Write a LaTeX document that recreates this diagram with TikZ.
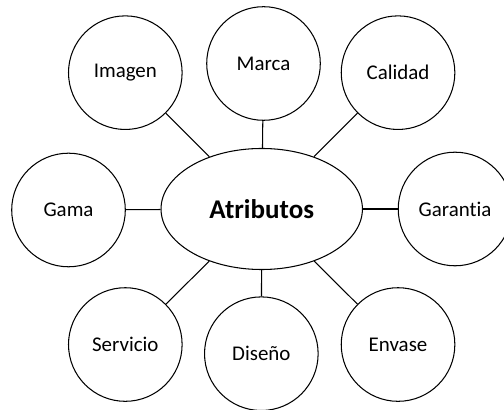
\documentclass[tikz,border=0pt]{standalone}
\usepackage{fontspec}
\setmainfont{Carlito}[Ligatures={NoCommon}]
\usetikzlibrary{shapes.geometric}
\tikzset{
  map style/.style={
    line width=0.6pt,
  },
  attribute node/.style={
    draw,circle,inner sep=0pt,minimum size=2.29cm,
    font=\fontsize{12}{14}\selectfont
  },
  centre node/.style={
    draw,ellipse,inner sep=0pt,minimum width=4.06cm,minimum height=2.44cm,
    font=\fontsize{15.5}{18}\selectfont\bfseries
  },
  link/.style={
    draw,
  },
}

\begin{document}
\begin{tikzpicture}[map style]
  \useasboundingbox (0,0) rectangle (10.16,8.245);
  \node[centre node] (attr) at (5.276,4.032) {Atributos};
  \node[attribute node] (imagen) at (2.526,6.780) {Imagen}
    edge[link] (attr);
  \node[attribute node] (marca) at (5.312,6.965) {Marca}
    edge[link] (attr);
  \node[attribute node] (calidad) at (8.024,6.780) {Calidad}
    edge[link] (attr);
  \node[attribute node] (gama) at (1.381,4.012) {Gama}
    edge[link] (attr);
  \node[attribute node] (garantia) at (9.173,4.032) {Garantia}
    edge[link] (attr);
  \node[attribute node] (servicio) at (2.526,1.300) {Servicio}
    edge[link] (attr);
  \node[attribute node] (diseno) at (5.268,1.115) {Diseño}
    edge[link] (attr);
  \node[attribute node] (envase) at (8.024,1.300) {Envase}
    edge[link] (attr);
\end{tikzpicture}
\end{document}
